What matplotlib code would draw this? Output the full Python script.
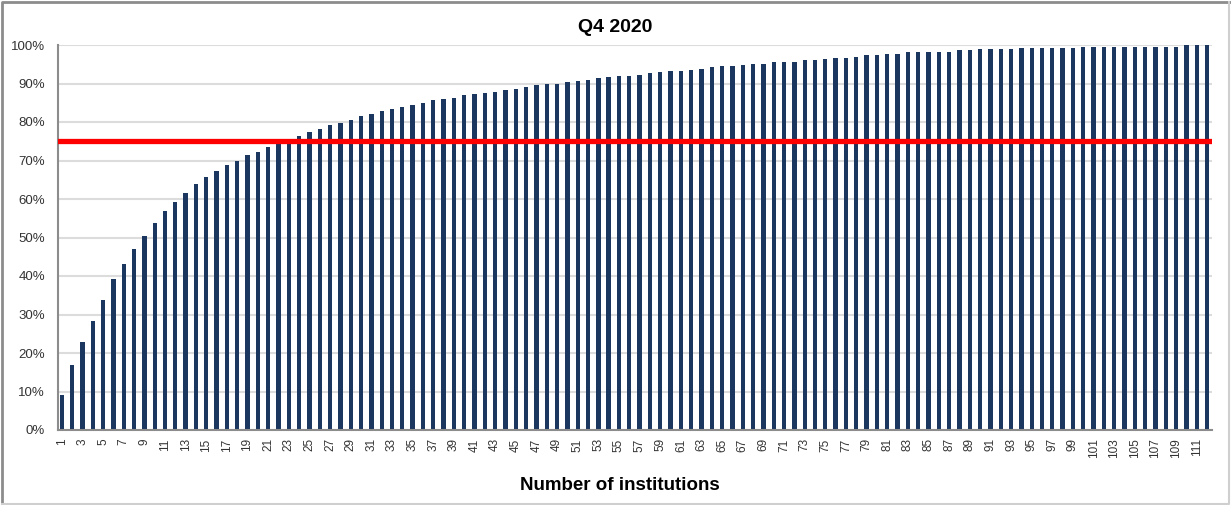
import numpy as np
import matplotlib.pyplot as plt
from matplotlib.lines import Line2D
from matplotlib.ticker import FuncFormatter

plt.rcParams['font.family'] = ['Liberation Sans', 'DejaVu Sans']

# cumulative share (%) by number of institutions
institutions = list(range(1, 113))
share = [9.1, 16.8, 22.8, 28.2, 33.8, 39.3, 43.1, 46.9, 50.4, 53.8,
         56.8, 59.3, 61.5, 63.8, 65.6, 67.2, 68.8, 70.0, 71.3, 72.3,
         73.6, 74.3, 75.0, 76.4, 77.3, 78.3, 79.3, 79.8, 80.6, 81.5,
         82.2, 82.8, 83.5, 84.0, 84.3, 85.0, 85.8, 86.1, 86.3, 86.9,
         87.2, 87.5, 87.9, 88.2, 88.5, 89.1, 89.5, 89.8, 90.0, 90.4,
         90.7, 91.0, 91.3, 91.7, 91.9, 91.9, 92.3, 92.6, 92.9, 93.2,
         93.2, 93.6, 93.8, 94.2, 94.5, 94.5, 94.8, 95.1, 95.1, 95.5,
         95.7, 95.7, 96.1, 96.1, 96.4, 96.7, 96.7, 97.0, 97.4, 97.4,
         97.7, 97.7, 98.1, 98.1, 98.3, 98.3, 98.3, 98.7, 98.7, 99.0,
         99.0, 99.0, 99.0, 99.3, 99.3, 99.3, 99.3, 99.3, 99.3, 99.6,
         99.6, 99.6, 99.6, 99.6, 99.6, 99.6, 99.6, 99.6, 99.6, 100.0,
         100.0, 100.0]
threshold = 75

tick_labels = [str(i) for i in institutions[::2]]

W, H = 1231, 505
fig = plt.figure(figsize=(W / 100, H / 100), dpi=100)
ax = fig.add_axes([57.5 / W, 1 - 430 / H, 1154 / W, 385 / H])

ax.bar(institutions, share, width=0.42, color='#1b365f', zorder=2)
ax.axhline(threshold, color='#ff0000', lw=3.8, zorder=3)

ax.set_xlim(0.58, 112.43)
ax.set_ylim(0, 100)
ax.set_yticks(np.arange(0, 101, 10))
ax.yaxis.set_major_formatter(FuncFormatter(lambda v, p: '%d%%' % v))
ax.set_xticks(institutions[::2])
ax.set_xticklabels(tick_labels, rotation=90, fontsize=8.5, color='#333333')
ax.tick_params(axis='y', labelsize=9.5, labelcolor='#333333', length=0, pad=9)
ax.tick_params(axis='x', length=0, pad=6)

ax.grid(axis='y', color='#dcdcdc', lw=1.5, zorder=0)
ax.set_axisbelow(True)
for s in ['top', 'right']:
    ax.spines[s].set_visible(False)
for s in ['left', 'bottom']:
    ax.spines[s].set_color('#8c8c8c')
    ax.spines[s].set_linewidth(1.5)

fig.text(615 / W, 1 - 32 / H, 'Q4 2020', fontsize=14, fontweight='bold',
         ha='center', va='baseline')
fig.text(620 / W, 1 - 490 / H, 'Number of institutions', fontsize=13.5,
         fontweight='bold', ha='center', va='baseline')

# outer frame: darker top/left, lighter right/bottom
fig.add_artist(Line2D([0.002, 0.002, 0.999], [0.002, 0.997, 0.997],
                      transform=fig.transFigure, color='#8c8c8c', lw=2))
fig.add_artist(Line2D([0.002, 0.998, 0.998], [0.002, 0.002, 0.997],
                      transform=fig.transFigure, color='#cfcfcf', lw=1.5))

fig.savefig('out.png', dpi=100)
